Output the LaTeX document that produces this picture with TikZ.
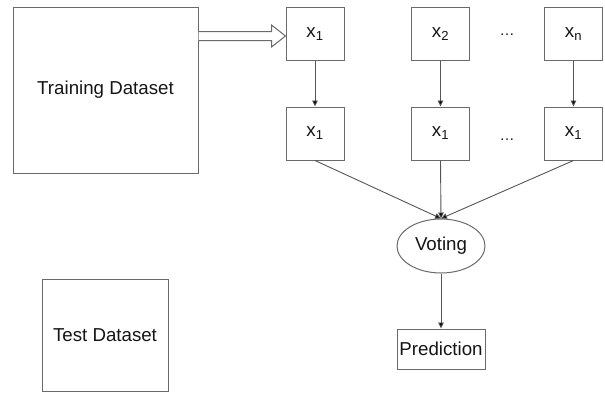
\documentclass[tikz,border=0pt]{standalone}
\usepackage{fontspec}
\setmainfont{Liberation Sans}
\usetikzlibrary{arrows.meta,shapes.geometric,calc}
\definecolor{edgegray}{HTML}{6A6A6A}
\definecolor{linegray}{HTML}{555555}
\definecolor{txt}{HTML}{151515}
\begin{document}
\begin{tikzpicture}[x=1pt,y=-1pt,
  every node/.style={font=\fontsize{18.7}{22}\selectfont, text=txt},
  box/.style={draw=edgegray, line width=1pt, rectangle, inner sep=0pt},
  xbox/.style={box, minimum width=58pt, minimum height=53pt},
  dots/.style={font=\fontsize{15}{17}\selectfont, inner sep=0pt},
  conn/.style={draw=linegray, line width=0.9pt, -{Triangle[length=6pt,width=5.5pt,fill=black]}},
  hollow/.style={draw=edgegray, line width=1pt, fill=white, line join=miter}
]
\useasboundingbox (0,0) rectangle (605,392);
\node[box, minimum width=185pt, minimum height=166pt] (train) at (105.5,90) {Training Dataset};
\node[box, minimum width=126pt, minimum height=112pt] (test) at (105,335) {Test Dataset};

\node[xbox] (a1) at (315,34) {x\textsubscript{1}};
\node[xbox] (a2) at (440.5,34) {x\textsubscript{2}};
\node[xbox] (an) at (573.5,34) {x\textsubscript{n}};
\node[dots] (d1) at (507,34.5) {…};

\node[xbox] (b1) at (315,133.5) {x\textsubscript{1}};
\node[xbox] (b2) at (440.5,133.5) {x\textsubscript{1}};
\node[xbox] (bn) at (573.5,133.5) {x\textsubscript{1}};
\node[dots] (d2) at (507,139.5) {…};

\node[draw=edgegray, line width=1pt, ellipse, minimum width=88pt, minimum height=54pt, inner sep=0pt] (vote) at (441,246) {Voting};
\node[box, minimum width=88pt, minimum height=40pt] (pred) at (441,349) {Prediction};

% hollow block arrow from training dataset to first sample
\coordinate (tip) at (a1.west |- 0,36);
\draw[hollow] (train.east |- 0,31.5) -- ($(tip)+(-14,-4.5)$) -- ($(tip)+(-14,-11)$) -- (tip)
  -- ($(tip)+(-14,11)$) -- ($(tip)+(-14,4.5)$) -- (train.east |- 0,40.5);

\draw[conn] (a1) -- (b1);
\draw[conn] (a2) -- (b2);
\draw[conn] (an) -- (bn);

\draw[conn] (b1.south) -- (vote.north);
\draw[conn] (b2.south) -- (vote.north);
\draw[conn] (bn.south) -- (vote.north);

\draw[conn] (vote) -- (pred);
\end{tikzpicture}
\end{document}
